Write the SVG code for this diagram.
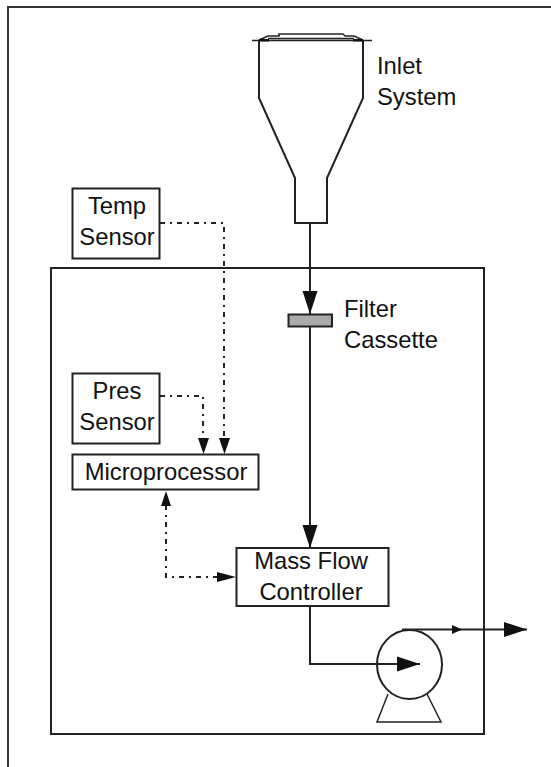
<svg xmlns="http://www.w3.org/2000/svg" width="551" height="767" viewBox="0 0 551 767">
<style>
.l{fill:none;stroke:#222;stroke-width:2}
.t{fill:none;stroke:#222;stroke-width:1.5}
.b{fill:#fff;stroke:#222;stroke-width:2}
.d{fill:none;stroke:#222;stroke-width:2;stroke-dasharray:5 5 2 5}
text{font-family:"Liberation Sans",Arial,sans-serif;font-size:23.800px;fill:#111;text-anchor:middle}
.s{text-anchor:start}
</style>
<defs>
<marker id="a" markerUnits="userSpaceOnUse" markerWidth="24" markerHeight="16" refX="23" refY="8" orient="auto"><path d="M0 0.500L23 8L0 15.500Z" fill="#111"/></marker>
</defs>
<rect x="8" y="7" width="560" height="770" fill="#fff" stroke="#333" stroke-width="2"/>
<rect x="51" y="268" width="433" height="466" class="l"/>
<g id="inlet-system">
<path class="l" d="M259 41V98L295 178V223H327V178L363 98V41"/>
<path class="t" d="M252 40.500H372M259 40L268 36H279V34H343L345 36H354L363 40M268 38.500H354"/>
<path d="M259 39h10v2.500h-10zM353 39h10v2.500h-10z" fill="#111"/>
<text class="s" x="377" y="74">Inlet</text><text class="s" x="377" y="105">System</text>
</g>
<g id="temp-sensor"><rect class="b" x="72.500" y="188.500" width="87" height="70"/><text x="117" y="214">Temp</text><text x="117" y="245">Sensor</text></g>
<g id="pres-sensor"><rect class="b" x="72.500" y="373.500" width="87" height="70"/><text x="117" y="399">Pres</text><text x="117" y="430">Sensor</text></g>
<g id="microprocessor"><rect class="b" x="72.500" y="454.500" width="186" height="35"/><text x="166" y="480">Microprocessor</text></g>
<g id="filter-cassette"><rect x="288.500" y="314.500" width="43.500" height="12" fill="#aaa" stroke="#222" stroke-width="2"/><text class="s" x="344" y="317">Filter</text><text class="s" x="344" y="348">Cassette</text></g>
<g id="mass-flow-controller"><rect class="b" x="236.500" y="548" width="152" height="58"/><text x="311" y="569">Mass Flow</text><text x="311" y="600">Controller</text></g>
<g id="pump"><ellipse cx="409.500" cy="664.500" rx="32.500" ry="34.500" fill="none" stroke="#222" stroke-width="2"/><path class="t" d="M388 694L377 722H441L427 694" stroke-width="2"/></g>
<g id="connectors">
<path class="l" d="M310 223V314" marker-end="url(#a)"/>
<path class="l" d="M310 326V548" marker-end="url(#a)"/>
<path class="l" d="M310 606V664H420" marker-end="url(#a)"/>
<path class="l" d="M402 629.500H527" marker-end="url(#a)"/>
<path d="M452 625L462 629.500L452 634Z" fill="#111"/>
<path class="d" d="M160 223H224V441"/>
<path class="d" d="M160 396H203V441"/>
<path d="M198 438H209L203.500 454ZM219 438H230L224.500 454Z" fill="#111"/>
<path class="d" d="M166 505V577H220"/>
<path d="M166 491L171 506H161Z" fill="#111"/>
<path d="M217 572L236 577L217 582Z" fill="#111"/>
</g>
</svg>
